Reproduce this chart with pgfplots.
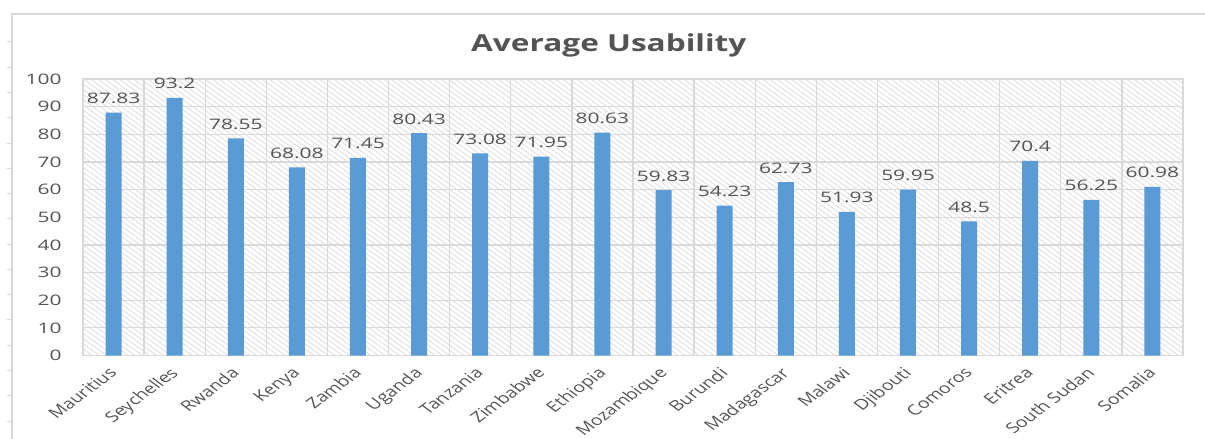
\documentclass[border=0pt]{standalone}
\usepackage{pgfplots}
\pgfplotsset{compat=1.18}
\usepackage{fontspec}
\setmainfont{Open Sans}[FakeStretch=1.45]
\newfontfamily\labelfont{Open Sans}
\newfontfamily\titlefont{Open Sans}[FakeStretch=1.35]
\usetikzlibrary{patterns.meta}

\definecolor{barblue}{HTML}{5B9BD5}
\definecolor{gridgray}{HTML}{D9D9D9}
\definecolor{hatchgray}{HTML}{DADADA}
\definecolor{labelgray}{HTML}{545454}

\begin{document}
\begin{tikzpicture}
\path[use as bounding box] (0,0) rectangle (1205bp,439bp);

% chart frame with its small side marks
\draw[gridgray, line width=1.2bp] (12bp,0) -- (12bp,425bp) -- (1205bp,425bp);
\foreach \k in {0,...,15} {
  \draw[gridgray, line width=1bp] (7bp,{397bp-\k*25.27bp}) -- (12bp,{397bp-\k*25.27bp});
}

\begin{axis}[
  at={(83bp,83.5bp)}, anchor=south west,
  scale only axis,
  width=1100bp, height=276.5bp,
  xmin=-0.5, xmax=17.5,
  ymin=0, ymax=100,
  ytick={0,10,...,100},
  xtick={0,...,17},
  xticklabels={Mauritius,Seychelles,Rwanda,Kenya,Zambia,Uganda,Tanzania,Zimbabwe,Ethiopia,Mozambique,Burundi,Madagascar,Malawi,Djibouti,Comoros,Eritrea,South Sudan,Somalia},
  minor xtick={-0.5,0.5,...,17.5},
  xminorgrids, ymajorgrids,
  grid style={gridgray, line width=1.3bp},
  minor grid style={gridgray, line width=1.3bp},
  axis line style={gridgray, line width=1.3bp},
  major tick length=0pt, minor tick length=0pt,
  tick style={draw=none},
  axis background/.style={fill=white, postaction={pattern={Lines[angle=-36,distance=4.2bp,line width=0.7bp]}, pattern color=hatchgray}},
  /pgf/number format/assume math mode=true,
  yticklabel style={font=\fontsize{14.5}{16}\selectfont, text=labelgray, anchor=east, xshift=-18bp},
  % slanted labels, widened horizontally
  xticklabel style={font=\labelfont\fontsize{14.5}{16}\selectfont, text=labelgray,
    xshift=-6bp, yshift=-6bp, cm={0.9546,0.7071,-0.9546,0.7071,(0,0)}, anchor=north east},
  title={Average Usability},
  title style={at={(0.478,1)}, anchor=base, yshift=22bp, font=\titlefont\bfseries\fontsize{23.5}{26}\selectfont, text=labelgray},
  ybar, bar width=16bp,
  nodes near coords,
  nodes near coords style={anchor=base, yshift=9bp, font=\fontsize{14.5}{16}\selectfont, text=labelgray},
]
\addplot[fill=barblue, draw=none] coordinates {
  (0,87.83) (1,93.2) (2,78.55) (3,68.08) (4,71.45) (5,80.43)
  (6,73.08) (7,71.95) (8,80.63) (9,59.83) (10,54.23) (11,62.73)
  (12,51.93) (13,59.95) (14,48.5) (15,70.4) (16,56.25) (17,60.98)
};
\end{axis}
\end{tikzpicture}
\end{document}
